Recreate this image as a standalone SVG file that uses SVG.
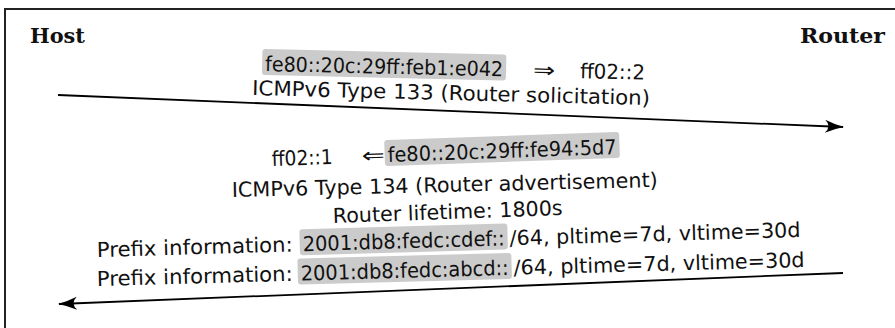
<svg xmlns="http://www.w3.org/2000/svg" width="895" height="328" viewBox="0 0 895 328">
  <style>
    .lbl { font-family: "DejaVu Sans", "Liberation Sans", sans-serif; font-size: 20.5px; fill: #111; }
    .end { font-family: "DejaVu Serif", "Liberation Serif", serif; font-weight: bold; font-size: 20px; fill: #111; }
    .hl { fill: #cbcbcb; }
    .msg { fill: none; stroke: #000; stroke-width: 1.8; marker-end: url(#head); }
    .frame { fill: none; stroke: #222; stroke-width: 2; }
  </style>
  <defs>
    <marker id="head" markerUnits="userSpaceOnUse" markerWidth="24" markerHeight="16" refX="0" refY="0" viewBox="-20 -8 22 16" orient="auto">
      <path d="M1,0 Q-8,-2 -18,-6.5 Q-11,0 -18,6.5 Q-8,2 1,0 Z" fill="#000"/>
    </marker>
  </defs>

  <!-- outer frame -->
  <rect class="frame" x="5" y="9" width="900" height="330"/>

  <g id="host">
    <text class="end" x="30" y="43" textLength="55" lengthAdjust="spacingAndGlyphs">Host</text>
  </g>
  <g id="router">
    <text class="end" x="800" y="43" textLength="85" lengthAdjust="spacingAndGlyphs">Router</text>
  </g>

  <g id="connectors">
    <line class="msg" x1="58" y1="95" x2="843" y2="127"/>
    <line class="msg" x1="843" y1="273" x2="59" y2="304"/>
  </g>

  <!-- router solicitation labels -->
  <g id="rs-label">
    <g transform="rotate(1.3 265 71)">
      <rect class="hl" x="262" y="49" width="244" height="26" rx="3"/>
      <text class="lbl" x="265" y="71" textLength="238" lengthAdjust="spacingAndGlyphs">fe80::20c:29ff:feb1:e042</text>
      <text class="lbl" x="533" y="71" textLength="22" lengthAdjust="spacingAndGlyphs">⇒</text>
      <text class="lbl" x="580" y="71" textLength="65" lengthAdjust="spacingAndGlyphs">ff02::2</text>
    </g>
    <g transform="rotate(1.45 252 95)">
      <text class="lbl" x="252" y="95" textLength="398" lengthAdjust="spacingAndGlyphs">ICMPv6 Type 133 (Router solicitation)</text>
    </g>
  </g>

  <!-- router advertisement labels -->
  <g id="ra-label">
    <g transform="rotate(-2 272 166)">
      <text class="lbl" x="272" y="166" textLength="61" lengthAdjust="spacingAndGlyphs">ff02::1</text>
      <text class="lbl" x="362" y="166" textLength="23" lengthAdjust="spacingAndGlyphs">⇐</text>
      <rect class="hl" x="385" y="144" width="235" height="26" rx="3"/>
      <text class="lbl" x="388" y="166" textLength="229" lengthAdjust="spacingAndGlyphs">fe80::20c:29ff:fe94:5d7</text>
    </g>
    <g transform="rotate(-1.35 232 197)">
      <text class="lbl" x="232" y="197" textLength="426" lengthAdjust="spacingAndGlyphs">ICMPv6 Type 134 (Router advertisement)</text>
    </g>
    <g transform="rotate(-2 333 223)">
      <text class="lbl" x="333" y="223" textLength="230" lengthAdjust="spacingAndGlyphs">Router lifetime: 1800s</text>
    </g>
    <g transform="rotate(-1.63 97 257)">
      <text class="lbl" x="97" y="257" textLength="196" lengthAdjust="spacingAndGlyphs">Prefix information:</text>
      <rect class="hl" x="300" y="235" width="208" height="26" rx="3"/>
      <text class="lbl" x="303" y="257" textLength="202" lengthAdjust="spacingAndGlyphs">2001:db8:fedc:cdef::</text>
      <text class="lbl" x="510" y="257" textLength="291" lengthAdjust="spacingAndGlyphs">/64, pltime=7d, vltime=30d</text>
    </g>
    <g transform="rotate(-1.54 97 286)">
      <text class="lbl" x="97" y="286" textLength="196" lengthAdjust="spacingAndGlyphs">Prefix information:</text>
      <rect class="hl" x="298" y="264" width="214" height="26" rx="3"/>
      <text class="lbl" x="301" y="286" textLength="208" lengthAdjust="spacingAndGlyphs">2001:db8:fedc:abcd::</text>
      <text class="lbl" x="514" y="286" textLength="291" lengthAdjust="spacingAndGlyphs">/64, pltime=7d, vltime=30d</text>
    </g>
  </g>
</svg>
